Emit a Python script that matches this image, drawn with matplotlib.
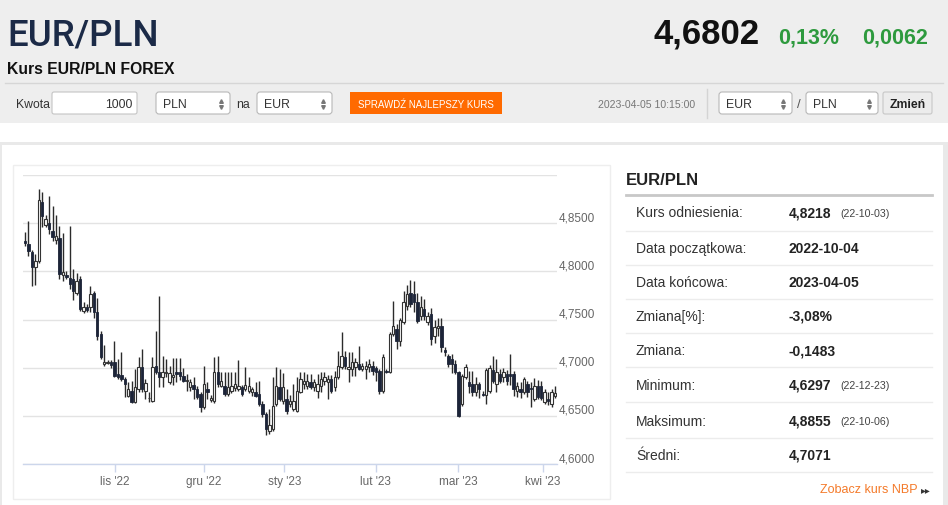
import numpy as np
import matplotlib
matplotlib.use("Agg")
import matplotlib.pyplot as plt
import matplotlib.patches as mpatches
import matplotlib.transforms as mtransforms

plt.rcParams['font.family'] = ['Liberation Sans', 'DejaVu Sans']

# dzienne świece EUR/PLN
opens = [4.832, 4.828, 4.820, 4.805, 4.811, 4.872, 4.848, 4.850, 4.842, 4.833,
         4.835, 4.796, 4.796, 4.793, 4.792, 4.778, 4.792, 4.759, 4.763, 4.763,
         4.778, 4.758, 4.735, 4.704, 4.705, 4.706, 4.706, 4.693, 4.692, 4.688,
         4.671, 4.676, 4.664, 4.678, 4.701, 4.676, 4.668, 4.665, 4.702, 4.696,
         4.690, 4.694, 4.685, 4.690, 4.695, 4.695, 4.691, 4.686, 4.680, 4.682,
         4.678, 4.673, 4.659, 4.678, 4.666, 4.665, 4.696, 4.681, 4.681, 4.673,
         4.676, 4.679, 4.678, 4.680, 4.678, 4.676, 4.675, 4.675, 4.673, 4.662,
         4.652, 4.634, 4.636, 4.662, 4.680, 4.665, 4.667, 4.662, 4.657, 4.655,
         4.675, 4.683, 4.681, 4.685, 4.680, 4.676, 4.681, 4.686, 4.685, 4.688,
         4.680, 4.690, 4.701, 4.711, 4.699, 4.699, 4.701, 4.704, 4.699, 4.699,
         4.701, 4.702, 4.700, 4.697, 4.676, 4.697, 4.695, 4.735, 4.740, 4.728,
         4.747, 4.764, 4.778, 4.776, 4.768, 4.754, 4.761, 4.747, 4.756, 4.733,
         4.741, 4.743, 4.718, 4.712, 4.709, 4.704, 4.695, 4.662, 4.690, 4.685,
         4.683, 4.675, 4.683, 4.673, 4.672, 4.676, 4.698, 4.683, 4.693, 4.690,
         4.693, 4.693, 4.693, 4.676, 4.678, 4.675, 4.683, 4.679, 4.667, 4.681,
         4.681, 4.664, 4.667, 4.662, 4.671]
highs = [4.841, 4.852, 4.822, 4.818, 4.8855, 4.882, 4.858, 4.878, 4.868, 4.858,
         4.847, 4.840, 4.800, 4.847, 4.802, 4.798, 4.795, 4.768, 4.766, 4.785,
         4.780, 4.772, 4.738, 4.724, 4.708, 4.708, 4.728, 4.709, 4.716, 4.690,
         4.685, 4.686, 4.699, 4.711, 4.719, 4.688, 4.675, 4.711, 4.738, 4.774,
         4.712, 4.709, 4.702, 4.710, 4.710, 4.710, 4.700, 4.693, 4.688, 4.690,
         4.681, 4.675, 4.702, 4.685, 4.672, 4.711, 4.712, 4.695, 4.695, 4.695,
         4.695, 4.695, 4.708, 4.682, 4.701, 4.690, 4.680, 4.685, 4.686, 4.665,
         4.654, 4.657, 4.690, 4.701, 4.699, 4.694, 4.678, 4.672, 4.683, 4.690,
         4.695, 4.695, 4.693, 4.693, 4.688, 4.693, 4.695, 4.695, 4.692, 4.692,
         4.697, 4.717, 4.737, 4.717, 4.716, 4.716, 4.710, 4.722, 4.705, 4.707,
         4.709, 4.707, 4.702, 4.699, 4.714, 4.699, 4.737, 4.769, 4.745, 4.752,
         4.780, 4.786, 4.791, 4.790, 4.777, 4.774, 4.771, 4.758, 4.762, 4.750,
         4.752, 4.752, 4.721, 4.714, 4.714, 4.708, 4.697, 4.693, 4.704, 4.697,
         4.697, 4.690, 4.685, 4.676, 4.700, 4.703, 4.712, 4.709, 4.699, 4.700,
         4.698, 4.714, 4.697, 4.685, 4.685, 4.690, 4.686, 4.685, 4.689, 4.687,
         4.686, 4.678, 4.675, 4.678, 4.681]
lows = [4.826, 4.816, 4.785, 4.786, 4.809, 4.846, 4.846, 4.839, 4.831, 4.828,
        4.792, 4.790, 4.792, 4.782, 4.770, 4.775, 4.759, 4.757, 4.758, 4.758,
        4.752, 4.729, 4.709, 4.702, 4.704, 4.700, 4.690, 4.688, 4.686, 4.670,
        4.670, 4.663, 4.663, 4.675, 4.675, 4.667, 4.664, 4.664, 4.693, 4.680,
        4.680, 4.690, 4.683, 4.682, 4.685, 4.687, 4.685, 4.676, 4.676, 4.667,
        4.667, 4.654, 4.657, 4.667, 4.664, 4.663, 4.680, 4.680, 4.671, 4.671,
        4.674, 4.676, 4.676, 4.671, 4.676, 4.674, 4.671, 4.670, 4.660, 4.649,
        4.6297, 4.631, 4.634, 4.660, 4.665, 4.662, 4.652, 4.659, 4.655, 4.654,
        4.674, 4.678, 4.678, 4.678, 4.676, 4.669, 4.675, 4.682, 4.667, 4.674,
        4.676, 4.688, 4.699, 4.699, 4.685, 4.691, 4.691, 4.698, 4.697, 4.688,
        4.696, 4.692, 4.686, 4.673, 4.674, 4.694, 4.694, 4.733, 4.719, 4.722,
        4.745, 4.760, 4.763, 4.758, 4.746, 4.750, 4.749, 4.744, 4.724, 4.726,
        4.733, 4.716, 4.712, 4.701, 4.694, 4.693, 4.649, 4.660, 4.688, 4.674,
        4.671, 4.671, 4.668, 4.671, 4.662, 4.674, 4.684, 4.675, 4.684, 4.685,
        4.682, 4.682, 4.671, 4.670, 4.668, 4.673, 4.670, 4.659, 4.665, 4.667,
        4.666, 4.662, 4.661, 4.659, 4.668]
closes = [4.829, 4.821, 4.805, 4.811, 4.874, 4.857, 4.854, 4.844, 4.836, 4.837,
          4.797, 4.799, 4.794, 4.787, 4.780, 4.790, 4.761, 4.763, 4.760, 4.776,
          4.758, 4.733, 4.711, 4.706, 4.706, 4.703, 4.691, 4.690, 4.688, 4.683,
          4.678, 4.664, 4.680, 4.701, 4.678, 4.684, 4.669, 4.701, 4.695, 4.690,
          4.696, 4.696, 4.694, 4.692, 4.693, 4.691, 4.686, 4.687, 4.685, 4.678,
          4.670, 4.659, 4.683, 4.675, 4.669, 4.696, 4.683, 4.686, 4.673, 4.680,
          4.681, 4.683, 4.681, 4.673, 4.682, 4.681, 4.678, 4.671, 4.662, 4.652,
          4.636, 4.640, 4.660, 4.681, 4.667, 4.680, 4.655, 4.665, 4.665, 4.676,
          4.688, 4.686, 4.686, 4.680, 4.685, 4.683, 4.688, 4.690, 4.688, 4.676,
          4.690, 4.702, 4.712, 4.702, 4.701, 4.706, 4.706, 4.699, 4.702, 4.702,
          4.704, 4.697, 4.695, 4.676, 4.711, 4.695, 4.735, 4.743, 4.728, 4.750,
          4.768, 4.776, 4.766, 4.768, 4.748, 4.763, 4.754, 4.754, 4.730, 4.742,
          4.743, 4.721, 4.716, 4.704, 4.704, 4.695, 4.650, 4.691, 4.701, 4.681,
          4.675, 4.683, 4.678, 4.672, 4.698, 4.700, 4.686, 4.696, 4.686, 4.696,
          4.686, 4.691, 4.678, 4.681, 4.675, 4.688, 4.675, 4.678, 4.681, 4.670,
          4.669, 4.675, 4.665, 4.675, 4.674]

x_tick_pos = [26.1, 51.9, 75.4, 101.9, 125.8, 150.4]
x_tick_labels = ["lis '22", "gru '22", "sty '23", "lut '23", "mar '23", "kwi '23"]
y_ticks = [4.60, 4.65, 4.70, 4.75, 4.80, 4.85, 4.90]
y_labels = ["4,6000", "4,6500", "4,7000", "4,7500", "4,8000", "4,8500", ""]

stat_labels = ["Kurs odniesienia:", "Data początkowa:", "Data końcowa:", "Zmiana[%]:",
               "Zmiana:", "Minimum:", "Maksimum:", "Średni:"]
stat_values = ["4,8218", "2022-10-04", "2023-04-05", "-3,08%", "-0,1483",
               "4,6297", "4,8855", "4,7071"]
stat_dates = ["(22-10-03)", "", "", "", "", "(22-12-23)", "(22-10-06)", ""]

fig = plt.figure(figsize=(9.48, 5.06), dpi=100)
fig.patch.set_facecolor('white')

# tło strony w pikselach
bg = fig.add_axes([0, 0, 1, 1])
bg.set_xlim(0, 948)
bg.set_ylim(506, 0)
bg.axis('off')

bg.add_patch(mpatches.Rectangle((0, 0), 948, 124, color='#eeeeee', lw=0))
bg.add_patch(mpatches.Rectangle((0, 143), 948, 3, color='#e9e9e9', lw=0))
bg.add_patch(mpatches.Rectangle((0, 143), 2, 363, color='#e9e9e9', lw=0))
bg.add_patch(mpatches.Rectangle((943, 143), 5, 363, color='#e9e9e9', lw=0))
bg.plot([5, 943], [83.5, 83.5], color='#d6d6d6', lw=1)

bg.text(7, 45, "EUR/PLN", family=['Roboto', 'Liberation Sans'], fontsize=26.5,
        fontweight='medium', color='#1b2a47', va='baseline')
bg.text(760, 43, "4,6802", fontsize=25, fontweight='bold', color='#111111',
        va='baseline', ha='right')
bg.text(778, 43, "0,13%", fontsize=15.5, fontweight='bold', color='#2e9a3e',
        va='baseline')
bg.text(862, 43, "0,0062", fontsize=15.5, fontweight='bold', color='#2e9a3e',
        va='baseline')
bg.text(7, 74, "Kurs EUR/PLN FOREX", fontsize=11.3, fontweight='bold',
        color='#111111', va='baseline')


def select_box(x0, x1, label):
    bg.add_patch(mpatches.FancyBboxPatch((x0, 93), x1 - x0, 22,
                 boxstyle="round,pad=0,rounding_size=3",
                 fc='white', ec='#b8b8b8', lw=0.8))
    bg.text(x0 + 7, 104.5, label, fontsize=8.8, color='#333333', va='center')
    bg.plot([x1 - 9], [101.5], marker='^', ms=2.6, color='#777777')
    bg.plot([x1 - 9], [107.5], marker='v', ms=2.6, color='#777777')


bg.text(16, 104.5, "Kwota", fontsize=8.8, color='#333333', va='center')
bg.add_patch(mpatches.FancyBboxPatch((52, 93), 85, 22,
             boxstyle="round,pad=0,rounding_size=2",
             fc='white', ec='#c4c4c4', lw=0.8))
bg.text(133, 104.5, "1000", fontsize=8.8, color='#333333', va='center',
        ha='right')
select_box(156, 230, "PLN")
bg.text(236, 104.5, "na", fontsize=8.8, color='#333333', va='center')
select_box(257, 332, "EUR")
bg.add_patch(mpatches.Rectangle((350, 93), 152, 22, color='#ff6a00', lw=0))
bg.text(426, 104.5, "SPRAWDŹ NAJLEPSZY KURS", fontsize=7, color='white',
        va='center', ha='center')
bg.text(598, 104.5, "2023-04-05 10:15:00", fontsize=7.6, color='#777777',
        va='center')
bg.plot([707, 707], [90, 119], color='#d4d4d4', lw=1)
select_box(719, 792, "EUR")
bg.text(797, 104.5, "/", fontsize=9.5, color='#555555', va='center')
select_box(806, 878, "PLN")
bg.add_patch(mpatches.FancyBboxPatch((883, 93), 49, 22,
             boxstyle="round,pad=0,rounding_size=2",
             fc='#ececec', ec='#c8c8c8', lw=0.8))
bg.text(907.5, 104.5, "Zmień", fontsize=8.8, fontweight='bold',
        color='#222222', va='center', ha='center')

# ramka wykresu
bg.add_patch(mpatches.Rectangle((13, 166), 597, 334, fc='none',
             ec='#eeeeee', lw=1))

# panel statystyk
bg.text(626, 185, "EUR/PLN", fontsize=12, fontweight='bold', color='#222222',
        va='baseline')
bg.plot([626, 932], [195.7, 195.7], color='#c8c8c8', lw=2)
row_y = [213.3, 249, 283.3, 316.7, 351, 386, 421.7, 456]
sep_y = [231.7, 266, 300, 334.3, 368.3, 403.3, 439, 473.3]
for ry, sy, lab, val, dt in zip(row_y, sep_y, stat_labels, stat_values, stat_dates):
    bg.text(636, ry, lab, fontsize=10, color='#333333', va='center')
    bg.text(789, ry, val, fontsize=10, fontweight='bold', color='#222222',
            va='center')
    if dt:
        bg.text(840, ry + 0.5, dt, fontsize=7.7, color='#444444', va='center')
    bg.plot([626, 932], [sy, sy], color='#ececec', lw=1)
bg.text(918, 490, "Zobacz kurs NBP", fontsize=9, color='#f47a2a',
        va='center', ha='right')
bg.text(921, 490.5, "▸▸", family=['DejaVu Sans'], fontsize=7,
        color='#333333', va='center')

# wykres świecowy
ax = fig.add_axes([23.3 / 948, (506 - 465) / 506, 533.4 / 948, (465 - 176) / 506])
ax.set_facecolor('none')
o = np.array(opens)
h = np.array(highs)
lo = np.array(lows)
c = np.array(closes)
idx = np.arange(len(o))
up = c >= o
body_lo = np.minimum(o, c)
body_h = np.maximum(np.abs(c - o), 0.0008)

ax.vlines(idx, lo, h, color='#2b2b2b', lw=1.0, zorder=2)
ax.bar(idx[up], body_h[up], bottom=body_lo[up], width=0.7, color='white',
       edgecolor='#333333', lw=0.8, zorder=3)
ax.bar(idx[~up], body_h[~up], bottom=body_lo[~up], width=0.7,
       color='#1c2438', edgecolor='#1c2438', lw=0.6, zorder=3)

ax.set_xlim(-0.5, len(o) - 0.5)
ax.set_ylim(4.60, 4.90)
ax.set_yticks(y_ticks)
ax.tick_params(axis='y', length=0, labelleft=False, labelright=False)
ax.yaxis.grid(True, color='#e3e3e3', lw=1)
ax.set_axisbelow(True)
for s in ['top', 'right', 'left']:
    ax.spines[s].set_visible(False)
ax.spines['bottom'].set_color('#ccd6eb')
ax.spines['bottom'].set_linewidth(1)
ax.set_xticks(x_tick_pos, x_tick_labels)
ax.tick_params(axis='x', length=5.5, width=1, color='#ccd6eb',
               labelcolor='#666666', labelsize=8.5, pad=2.5)

lab_tr = mtransforms.offset_copy(ax.get_yaxis_transform(), fig=fig,
                                 x=2, y=6, units='dots')
for v, lab in zip(y_ticks, y_labels):
    ax.text(1.0, v, lab, transform=lab_tr, fontsize=8.5, color='#666666',
            va='center', ha='left', clip_on=False)

fig.savefig("out.png", dpi=100)
